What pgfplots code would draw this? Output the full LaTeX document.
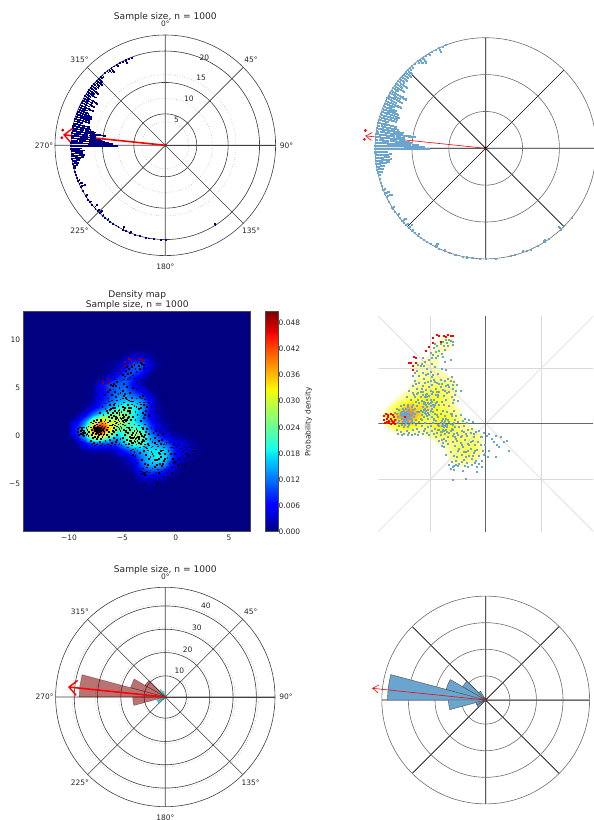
\documentclass[border=0pt]{standalone}
\usepackage{pgfplots}
\usepackage{pgfplotstable}
\usepackage{fontspec}
\setmainfont{DejaVu Sans}
\pgfplotsset{compat=1.18}
\usepgfplotslibrary{polar}
\usetikzlibrary{arrows.meta}
\definecolor{txt}{gray}{0.15}
\definecolor{navy}{rgb}{0,0,0.5}
\definecolor{dotb}{HTML}{6AA5CF}
\pgfplotsset{
 colormap={myjet}{rgb(0pt)=(0,0,.5); rgb(110pt)=(0,0,1); rgb(125pt)=(0,0,1); rgb(340pt)=(0,.86,1); rgb(350pt)=(0,.9,.97); rgb(375pt)=(.08,1,.92); rgb(640pt)=(.94,1,.03); rgb(660pt)=(1,.93,0); rgb(890pt)=(1,.07,0); rgb(910pt)=(.91,0,0); rgb(1000pt)=(.5,0,0)},
 colormap={yel}{rgb(0pt)=(1,1,1); rgb(84pt)=(1,1,1); rgb(85pt)=(1,1,.75); rgb(160pt)=(1,1,.45); rgb(250pt)=(1,1,.1); rgb(330pt)=(1,.85,.05); rgb(430pt)=(1,.6,.1); rgb(530pt)=(1,.4,.1)},
 rose/.style={scale only axis, width=#1, height=#1, anchor=center, clip=false,
   xmin=0, xmax=360, ymin=0,
   xtick={0,45,...,315}, xticklabels={90°,45°,0°,315°,270°,225°,180°,135°},
   xticklabel style={anchor=center, shift={(\tick:11pt)}},
   yticklabels={}, major tick length=0pt, minor tick length=0pt, tick style={draw=none},
   font=\fontsize{7.5}{9}\selectfont, every tick label/.append style={text=txt},
   title style={font=\fontsize{9.1}{11}\selectfont, text=txt, anchor=center},
   grid=both},
 plain/.style={scale only axis, width=#1, height=#1, anchor=center, clip=false,
   xmin=0, xmax=360, ymin=0, xtick={0,45,...,315}, xticklabels={}, yticklabels={},
   major tick length=0pt, minor tick length=0pt, tick style={draw=none}, grid=major,
   x grid style={black,line width=.7pt}, y grid style={gray!85!black,line width=.6pt},
   axis line style={gray!85!black,line width=.6pt}},
}
\pgfplotstableread[row sep=crcr]{z\\
0\\0\\0\\0\\0\\0\\0\\0\\0\\0\\0\\0\\0\\0\\0\\0\\0\\0\\
0\\0\\0\\0\\0\\0\\0\\2\\4\\4\\2\\0\\0\\0\\0\\0\\0\\0\\
0\\0\\0\\0\\0\\1\\2\\5\\10\\11\\4\\1\\0\\0\\0\\0\\0\\0\\
0\\0\\0\\0\\0\\1\\3\\8\\10\\8\\3\\0\\0\\0\\0\\0\\0\\0\\
0\\0\\0\\0\\1\\4\\8\\10\\7\\3\\0\\0\\0\\0\\0\\0\\0\\0\\
0\\0\\0\\1\\6\\10\\11\\11\\6\\2\\0\\0\\0\\0\\0\\0\\0\\0\\
0\\0\\0\\1\\5\\9\\12\\13\\10\\7\\2\\0\\0\\0\\0\\0\\0\\0\\
0\\0\\0\\2\\6\\10\\14\\16\\15\\13\\6\\1\\0\\0\\0\\0\\0\\0\\
0\\0\\1\\4\\9\\14\\18\\21\\19\\15\\7\\1\\0\\0\\0\\0\\0\\0\\
0\\1\\5\\12\\18\\22\\26\\25\\19\\14\\6\\2\\0\\0\\0\\0\\0\\0\\
1\\5\\13\\27\\37\\29\\31\\26\\19\\14\\8\\3\\1\\0\\0\\0\\0\\0\\
2\\9\\20\\42\\53\\35\\23\\23\\23\\20\\11\\5\\2\\0\\0\\0\\0\\0\\
2\\7\\16\\30\\34\\24\\16\\21\\31\\25\\15\\10\\5\\2\\1\\0\\0\\0\\
0\\1\\6\\11\\11\\10\\11\\17\\23\\22\\16\\14\\11\\6\\4\\2\\0\\0\\
0\\0\\1\\2\\2\\2\\4\\8\\12\\15\\18\\18\\16\\8\\4\\3\\1\\0\\
0\\0\\0\\0\\0\\0\\1\\2\\6\\12\\17\\19\\17\\8\\3\\1\\0\\0\\
0\\0\\0\\0\\0\\0\\0\\1\\3\\10\\15\\16\\13\\5\\1\\0\\0\\0\\
0\\0\\0\\0\\0\\0\\0\\0\\1\\6\\9\\8\\6\\2\\0\\0\\0\\0\\
0\\0\\0\\0\\0\\0\\0\\0\\0\\2\\3\\2\\1\\0\\0\\0\\0\\0\\
0\\0\\0\\0\\0\\0\\0\\0\\0\\0\\1\\0\\0\\0\\0\\0\\0\\0\\
0\\0\\0\\0\\0\\0\\0\\0\\0\\0\\0\\0\\0\\0\\0\\0\\0\\0\\
}\dens
\pgfplotstableread[row sep=crcr]{a r\\
180 20\\183 20\\187 20\\190 20\\192 20\\196 20\\199 20\\202 20\\202 19.7\\205 20\\207 20\\207 19.7\\207 19.3\\210 20\\212 20\\214 20\\216 20\\218 20\\218 19.7\\220 20\\222 20\\222 19.7\\224 20\\224 19.7\\224 19.3\\226 20\\226 19.7\\228 20\\229 20\\229 19.7\\229 19.3\\231 20\\233 20\\233 19.7\\235 20\\237 20\\237.7 19.7\\237.7 20\\241 20\\
244 20\\244 19.7\\244 19.3\\244 19\\246 20\\246 19.7\\246 19.3\\248 20\\248 19.7\\250 20\\252 20\\254 20\\256 20\\256 19.7\\
257.5 20\\257.5 19.7\\257.5 19.3\\259 20\\259 19.7\\259 19.3\\259 19\\
260.5 20\\260.5 19.7\\260.5 19.3\\260.5 19\\260.5 18.7\\
262 20\\262 19.7\\262 19.3\\262 19\\262 18.7\\262 18.3\\262 18\\262 17.7\\
263.5 20\\263.5 19.7\\263.5 19.3\\263.5 19\\263.5 18.7\\263.5 18.3\\263.5 18\\263.5 17.7\\263.5 17.3\\
265 20\\265 19.7\\265 19.3\\265 19\\265 18.7\\265 18.3\\265 18\\265 17.7\\
266.5 20\\266.5 19.7\\266.5 19.3\\266.5 19\\266.5 18.7\\266.5 18.3\\266.5 18\\266.5 17.7\\266.5 17.3\\
268 20\\268 19.7\\268 19.3\\268 19\\268 18.7\\268 18.3\\268 18\\
270 20\\270 19.7\\270 19.3\\270 19\\270 18.7\\270 18.3\\270 18\\270 17.7\\270 17.3\\270 17\\270 16.7\\270 16.3\\270 16\\270 15.7\\270 15.3\\270 15\\270 14.7\\270 14.3\\270 14\\270 13.7\\270 13.3\\270 13\\270 12.7\\270 12.3\\270 12\\270 11.7\\270 11.3\\270 11\\270 10.7\\270 10.3\\
271.5 20\\271.5 19.7\\271.5 19.3\\271.5 19\\271.5 18.7\\271.5 18.3\\271.5 18\\271.5 17.7\\271.5 17.3\\271.5 17\\271.5 16.7\\271.5 16.3\\271.5 16\\271.5 15.7\\271.5 15.3\\271.5 15\\271.5 14.7\\271.5 14.3\\271.5 14\\271.5 13.7\\271.5 13.3\\271.5 13\\271.5 12.7\\271.5 12.3\\271.5 12\\271.5 11.7\\271.5 11.3\\
273 20\\273 19.7\\273 19.3\\273 19\\273 18.7\\273 18.3\\273 18\\273 17.7\\273 17.3\\273 17\\273 16.7\\273 16.3\\273 16\\273 15.7\\273 15.3\\273 15\\273 14.7\\273 14.3\\273 14\\273 13.7\\273 13.3\\273 13\\273 12.7\\273 12.3\\
274.5 20\\274.5 19.7\\274.5 19.3\\274.5 19\\274.5 18.7\\274.5 18.3\\274.5 18\\274.5 17.7\\274.5 17.3\\274.5 17\\274.5 16.7\\274.5 16.3\\274.5 16\\274.5 15.7\\274.5 15.3\\274.5 15\\274.5 14.7\\274.5 14.3\\274.5 14\\274.5 13.7\\
276 20\\276 19.7\\276 19.3\\276 19\\276 18.7\\276 18.3\\276 18\\276 17.7\\276 17.3\\276 17\\276 16.7\\276 16.3\\276 16\\276 15.7\\276 15.3\\276 15\\
277.5 20\\277.5 19.7\\277.5 19.3\\277.5 19\\277.5 18.7\\277.5 18.3\\277.5 18\\277.5 17.7\\277.5 17.3\\277.5 17\\277.5 16.7\\277.5 16.3\\277.5 16\\277.5 15.7\\277.5 15.3\\277.5 15\\
279 20\\279 19.7\\279 19.3\\279 19\\279 18.7\\279 18.3\\279 18\\279 17.7\\279 17.3\\279 17\\279 16.7\\279 16.3\\279 16\\279 15.7\\279 15.3\\279 15\\279 14.7\\279 14.3\\279 14\\279 13.7\\279 13.3\\279 13\\
280.5 20\\280.5 19.7\\280.5 19.3\\280.5 19\\280.5 18.7\\280.5 18.3\\280.5 18\\280.5 17.7\\280.5 17.3\\280.5 17\\280.5 16.7\\280.5 16.3\\280.5 16\\280.5 15.7\\280.5 15.3\\
282 20\\282 19.7\\282 19.3\\282 19\\282 18.7\\282 18.3\\282 18\\282 17.7\\282 17.3\\282 17\\282 16.7\\282 16.3\\
283.5 20\\283.5 19.7\\283.5 19.3\\283.5 19\\283.5 18.7\\283.5 18.3\\283.5 18\\283.5 17.7\\283.5 17.3\\283.5 17\\283.5 16.7\\
285 20\\285 19.7\\285 19.3\\285 19\\285 18.7\\285 18.3\\
286.5 20\\286.5 19.7\\286.5 19.3\\286.5 19\\286.5 18.7\\286.5 18.3\\286.5 18\\286.5 17.7\\286.5 17.3\\286.5 17\\
288 20\\288 19.7\\288 19.3\\288 19\\288 18.7\\288 18.3\\288 18\\288 17.7\\288 17.3\\288 17\\
289.5 20\\289.5 19.7\\289.5 19.3\\289.5 19\\289.5 18.7\\289.5 18.3\\289.5 18\\289.5 17.7\\289.5 17.3\\289.5 17\\289.5 16.7\\
291 20\\291 19.7\\291 19.3\\291 19\\291 18.7\\291 18.3\\291 18\\291 17.7\\291 17.3\\291 17\\
292.5 20\\292.5 19.7\\292.5 19.3\\292.5 19\\292.5 18.7\\292.5 18.3\\292.5 18\\292.5 17.7\\
294 20\\294 19.7\\294 19.3\\294 19\\294 18.7\\294 18.3\\
295.5 20\\295.5 19.7\\295.5 19.3\\295.5 19\\295.5 18.7\\295.5 18.3\\295.5 18\\295.5 17.7\\295.5 17.3\\295.5 17\\
297 20\\297 19.7\\297 19.3\\297 19\\297 18.7\\297 18.3\\
298.5 20\\298.5 19.7\\298.5 19.3\\298.5 19\\298.5 18.7\\298.5 18.3\\298.5 18\\298.5 17.7\\298.5 17.3\\
300 20\\300 19.7\\300 19.3\\300 19\\300 18.7\\300 18.3\\300 18\\
301.5 20\\301.5 19.7\\301.5 19.3\\301.5 19\\301.5 18.7\\301.5 18.3\\301.5 18\\301.5 17.7\\301.5 17.3\\301.5 17\\
303 20\\303 19.7\\303 19.3\\303 19\\304.5 20\\304.5 19.7\\304.5 19.3\\304.5 19\\304.5 18.7\\304.5 18.3\\304.5 18\\
306 20\\306 19.7\\306 19.3\\306 19\\306 18.7\\307.5 20\\307.5 19.7\\307.5 19.3\\307.5 19\\307.5 18.7\\307.5 18.3\\307.5 18\\
309 20\\309 19.7\\309 19.3\\309 19\\310.5 20\\310.5 19.7\\310.5 19.3\\310.5 19\\310.5 18.7\\
312 20\\312 19.7\\312 19.3\\312 19\\313.5 20\\313.5 19.7\\313.5 19.3\\313.5 19\\313.5 18.7\\315 20\\315 19.7\\315 19.3\\315 19\\
316.5 20\\316.5 19.7\\318 20\\318 19.7\\320 20\\322 20\\322 19.7\\323.5 20\\323.5 19.7\\323.5 19.3\\325 20\\325 19.7\\325 19.3\\325 19\\
327 20\\329 20\\329 19.7\\331 20\\333 20\\335 20\\335 19.7\\335 19.3\\337 20\\339 20\\
148 20\\148 19.7\\
}\stack
\pgfplotstableread[row sep=crcr]{a r\\
129 20\\137 20\\137 19.7\\137 19.3\\145 20\\147 19.7\\152 20\\156 20\\158 20\\160 19.7\\165 20\\167 20\\175 20\\
}\stackb
\pgfplotstableread[row sep=crcr]{x y\\
-7.2 .7\\-7.5 .9\\-7 .5\\-6.9 1\\-7.3 .3\\-7.6 .5\\-7.1 1.1\\-6.8 .7\\-7.4 1.2\\-7.7 .8\\-6.7 .4\\-7 .2\\-7.3 .8\\-7.5 .2\\-6.6 1\\-7.8 .3\\-6.9 1.3\\-7.2 1.4\\-7.6 1.1\\-6.7 .8\\-7.1 .4\\-7.4 .6\\-7 .8\\-7.2 .1\\-6.8 .1\\-7.7 1\\-7.9 .6\\-6.5 .6\\-7.5 1.4\\-6.9 -.1\\-7.3 -.1\\-7.6 -.1\\-6.6 1.3\\-7.8 1.3\\-7.1 .9\\-7.3 1\\-6.8 .5\\-7.5 .7\\-7 1.5\\-6.7 1.5\\-7.4 .4\\-7.2 .5\\-6.9 .6\\-7.1 .7\\-7.6 .7\\-7.3 .5\\-6.7 .2\\-8 .9\\-7.9 .1\\-8.1 .4\\-7.8 -.2\\-7.4 -.3\\-7 -.3\\-6.5 .1\\-6.4 .9\\-6.4 1.4\\-6.6 1.7\\-7 1.7\\-7.4 1.7\\-7.7 1.6\\-8 1.4\\-8.2 1\\-6.3 .4\\-6.2 1.1\\
-8 -.5\\-7.7 -.7\\-7.4 -.9\\-7.1 -.6\\-6.9 -.8\\-6.6 -.5\\-6.4 -.9\\-6.2 -.4\\-6 -.7\\-5.8 -.2\\-5.7 -.9\\-5.5 -.4\\-5.3 -.8\\-5.1 -1\\-7.9 -.9\\-7.6 -1\\-7 -1\\-6.7 -1\\-6.1 -1\\-5.6 -.6\\-6.3 -.1\\-6 .2\\-5.8 .4\\-5.5 .1\\-5.2 -.3\\
-6.2 1.6\\-6 1.9\\-5.9 1.2\\-5.7 1.5\\-5.6 2\\-5.5 1\\-5.4 1.7\\-5.3 2.2\\-5.2 1.3\\-5.1 .8\\-5 1.6\\-4.9 2\\-4.8 1.1\\-5.8 .8\\-6 1.1\\-5.6 .6\\-5.4 .9\\-5.2 .5\\-5 1.2\\-4.8 1.7\\-6.1 2.2\\-5.9 2.4\\-5.7 2.6\\-5.5 2.4\\-5.3 1.5\\-5.1 2.5\\-4.9 2.7\\-4.7 2.2\\-5.4 2.6\\-5.6 1.8\\-5.8 2.1\\-6.3 2\\-6.4 2.4\\-6.2 2.7\\-5.5 1.9\\-5.2 1.9\\-5 2.2\\-4.7 1.5\\-4.6 .9\\-4.5 1.9\\-4.4 1.3\\-4.3 2.4\\-4.5 2.6\\-4.2 1.7\\-4.1 .9\\-4 2\\-3.9 1.2\\-5.7 1.1\\-5.9 .5\\-5.3 .7\\-4.9 .6\\-4.7 .4\\-5.5 1.4\\-5.1 1.8\\-5.4 1.2\\-5.2 1\\-5.6 1.3\\-4.9 1.4\\-5 1.9\\-5.3 2.4\\-4.6 1.7\\-4.4 2\\-3.8 1.7\\-3.6 2.2\\-3.5 1.1\\-3.3 1.6\\-3.1 .9\\-3.7 .7\\-3 1.9\\-2.9 1.2\\
-4.8 .1\\-4.6 -.4\\-4.5 .3\\-4.4 -.8\\-4.3 .6\\-4.2 -.2\\-4.1 -1\\-4 .3\\-3.9 -.5\\-3.8 .1\\-3.7 -.9\\-3.6 .5\\-3.5 -.3\\-3.4 -1.2\\-3.3 .2\\-3.2 -.6\\-3.1 .7\\-3 -.1\\-2.9 -.9\\-2.8 .4\\-4.7 -.9\\-4.5 -1.2\\-4.3 -.1\\-4.1 .1\\-4 -.7\\-3.9 -.1\\-3.8 -.3\\-3.7 .3\\-3.6 -.5\\-3.5 -.1\\-3.4 .4\\-3.3 -.8\\-4.2 -.5\\-4 -.2\\-3.8 -.6\\-3.6 -.1\\-3.9 .5\\-4.1 -.7\\-3.7 -.2\\-4.3 -.5\\-3.5 -.7\\-3.2 0\\-3.1 -.4\\-3 -.5\\-2.9 .1\\-2.8 -.3\\-2.7 .7\\-2.6 -.8\\-2.5 .2\\-2.4 -.3\\-2.3 .8\\-2.2 -.6\\-2.1 .3\\-2 -.2\\-1.9 .5\\-1.8 -.9\\-1.7 .1\\-1.6 -.5\\-1.5 .4\\-4.9 -.6\\-5 -.2\\-4.7 .5\\-4.4 .8\\-3.2 .9\\-3 -1.1\\-2.7 -1.3\\-2.5 -1\\-3.8 -1.3\\-3.6 -1.5\\-4 -1.4\\-2.2 -1.1\\-2 -.7\\-1.3 -.4\\-1.1 -.9\\-.9 -.7\\-1.2 .2\\-.6 -.6\\-1.4 -.8\\-4.2 -1.5\\
-3.4 -1.8\\-3.2 -2.5\\-3 -1.6\\-2.9 -2.9\\-2.8 -2\\-2.7 -3.3\\-2.6 -1.5\\-2.5 -2.4\\-2.4 -3.6\\-2.3 -1.7\\-2.2 -2.8\\-2.1 -2.1\\-2 -3.2\\-1.9 -1.4\\-1.8 -2.5\\-1.7 -3.5\\-1.6 -1.8\\-1.5 -2.9\\-1.4 -2.2\\-1.3 -3.1\\-1.2 -1.5\\-1.1 -2.6\\-1 -1.9\\-.9 -3.3\\-.8 -2.3\\-3.1 -3.4\\-2.9 -3.8\\-2.6 -3\\-2.4 -2.2\\-2.2 -1.9\\-2 -2.5\\-1.8 -3\\-1.6 -2.4\\-1.4 -1.6\\-1.2 -2.9\\-1 -2.4\\-.7 -1.6\\-.6 -2.9\\-.5 -1.9\\-3.6 -2.8\\-3.8 -2.1\\-4 -2\\-3.3 -3.7\\-3 -3.9\\-2.7 -3.7\\-2.5 -3.8\\-2.2 -3.4\\-1.9 -3.8\\-1.6 -3.9\\-1.3 -3.7\\-1 -3.5\\-.8 -3.9\\-.6 -3.6\\-.4 -3.3\\-.3 -2.4\\-.2 -2.8\\-2.8 -1.2\\-2.3 -1.2\\-1.7 -1.1\\-1.5 -1.9\\-1.1 -1.2\\-3.9 -1.7\\
-.4 -1.2\\-.1 -1.9\\.1 -1.1\\.3 -2.4\\.5 -1.3\\.7 -1.6\\.9 -1.1\\1 -1.9\\1.2 -2.1\\1.3 -1.2\\1.6 -1.6\\1.9 -1.5\\2.1 -2.4\\.2 -3\\-.1 -2.7\\.9 -3\\.3 -.9\\-.2 -.8\\-.5 -1.2\\
-7.1 2.4\\-6.9 3\\-6.8 2.2\\-6.6 3.4\\-6.5 2.6\\-6.4 3.9\\-6.2 3.2\\-6 3.7\\-5.9 2.9\\-5.7 3.4\\-5.6 4.1\\-5.4 3.1\\-5.2 3.8\\-5 3\\-4.9 3.5\\-4.7 4\\-4.5 3.2\\-4.4 3.7\\-4.2 2.9\\-4 3.6\\-3.9 3.1\\-3.7 3.9\\-3.5 2.8\\-3.4 3.5\\-3.2 3.9\\-3 3.2\\-2.9 3.8\\-2.8 2.6\\-3.1 2.4\\-3.3 2.9\\-3.6 3.4\\-3.8 2.5\\-4.1 3.3\\-4.3 2.6\\-4.6 3.8\\-4.8 2.9\\-5.1 3.3\\-5.3 2.7\\-5.5 3.7\\-5.8 3.2\\-6.1 2.8\\-6.3 3.6\\-3.1 4.2\\-3 3.5\\-3.3 3.3\\-2.6 3.5\\-2.3 3\\-2.7 3\\-2.5 2.1\\-3.4 4.1\\-4.1 4\\-4.9 4.2\\-6.6 2.8\\-2.9 2.2\\-4.4 2.9\\-5 3.9\\-5.7 2.9\\-3.7 3\\-4.2 3.6\\
-6.6 4.3\\-6.2 4.8\\-6 4.3\\-5.9 5.2\\-5.7 4.6\\-5.5 5.6\\-5.4 4.4\\-5.3 5\\-5.1 5.8\\-5 4.7\\-4.9 5.4\\-4.8 4.4\\-4.6 5.1\\-4.5 5.9\\-4.3 4.5\\-5.7 5.9\\-5.6 5.2\\-6.4 4.6\\-5.2 4.5\\-3.7 5.6\\-3.6 4.9\\-4 5\\-3.2 5.8\\-5.8 5.4\\-6.1 5.3\\
-5 6.4\\-4.8 6.2\\-4.7 6.8\\-4.5 6.5\\-4.4 7\\-4.2 6.6\\-4.1 7.2\\-4 6.3\\-3.8 7\\-3.7 6.7\\-3.5 7.3\\-3.4 7\\-3.2 7.5\\-3 7.1\\-3 7.4\\-4.6 7.2\\-4.9 5.9\\-3.9 6\\-4.3 6.1\\-3.6 7.6\\-3.3 7.6\\-3.9 7.4\\
-3 -5\\-1.8 -4.9\\-2.9 -4.1\\-3.2 -4\\-2.1 -4.2\\-.4 -3.9\\-.8 -4.3\\
}\pts
\pgfplotstableread[row sep=crcr]{x y\\
-4.4 8\\-4.2 7.9\\-3.8 7.9\\-3.6 7.8\\-3.4 8\\-3.2 7.9\\-3 7.9\\-4.1 7.4\\-4.8 7.7\\-4.8 7.3\\-5.1 6.9\\-5.4 6.6\\-6.5 6\\-6.3 5.9\\-6.9 5.5\\-6.8 5.5\\-6.3 5.5\\-6.6 5.2\\-6.6 4.9\\
}\redtop
\pgfplotstableread[row sep=crcr]{x y\\
-9.2 .7\\-9.2 .4\\-9 .9\\-8.9 .2\\-8.8 .6\\-8.7 .1\\-8.6 .9\\-8.5 .3\\-8.4 .8\\-8.4 .1\\-8.3 .6\\-8.3 .2\\-9.1 .1\\-8.9 .5\\-8.6 .5\\-8.2 .4\\-8.8 .8\\-8.6 0\\-8.2 0\\-8.7 .3\\-7.3 .6\\
}\redleft
\begin{document}
\begin{tikzpicture}[x=1pt,y=1pt]
\path[use as bounding box] (0,0) rectangle (594,820);
% A
\begin{polaraxis}[rose=220.6pt, at={(165.3pt,674.7pt)}, ymax=23.4,
  title={Sample size, n = 1000}, title style={at={(0.5,1.018)}},
  ytick={6.67,13.33,20}, minor ytick={5,10,15,20},
  axis line style={black!75,line width=.6pt},
  major grid style={black!75,line width=.6pt}, minor grid style={dotted,gray!75,line width=.6pt}]
\addplot[only marks, mark=square*, mark size=.42pt, navy] table[x expr={mod(450-\thisrowno{0},360)},y index=1]{\stack};
\addplot[red,line width=1.6pt,-{Straight Barb[length=8pt,width=15pt,line width=1.4pt]}] coordinates {(0,0)(174.1,21.8)};
\addplot[only marks, mark=*, mark size=1.2pt, red!85!black] coordinates {(171.6,22)(175.8,22)};
\node[text=txt] at (axis cs:66,5.9){5};
\node[text=txt] at (axis cs:63,11.06){10};
\node[text=txt] at (axis cs:62,16.2){15};
\node[text=txt] at (axis cs:66,20.4){20};
\end{polaraxis}
% B
\begin{polaraxis}[plain=221.2pt, at={(485.7pt,671.7pt)}, ymax=20, ytick={6.67,13.33}]
\addplot[only marks, mark=square*, mark size=.55pt, dotb] table[x expr={mod(450-\thisrowno{0},360)},y index=1]{\stack};
\addplot[only marks, mark=square*, mark size=.55pt, dotb] table[x expr={mod(450-\thisrowno{0},360)},y index=1]{\stackb};
\addplot[red,line width=.6pt,-{Straight Barb[length=6pt,width=8pt,line width=.6pt]}] coordinates {(0,0)(174.1,21.9)};
\addplot[only marks, mark=*, mark size=1.2pt, red] coordinates {(171.6,22)(175.8,22)};
\end{polaraxis}
% C
\begin{axis}[scale only axis, width=227pt, height=220pt, anchor=center, at={(137.2pt,398.3pt)},
  xmin=-14.25, xmax=7.03, ymin=-10.02, ymax=12.94, axis on top,
  axis background/.style={fill=navy},
  colormap name=myjet, point meta min=0, point meta max=0.0506,
  xtick={-10,-5,0,5}, xticklabels={−10,−5,0,5},
  ytick={-5,0,5,10}, yticklabels={−5,0,5,10},
  font=\fontsize{7.5}{9}\selectfont, every tick label/.append style={text=txt},
  tick style={draw=none}, axis line style={black!70,line width=.7pt},
  title={Density map\\Sample size, n = 1000},
  title style={font=\fontsize{9.1}{10.2}\selectfont, text=txt, anchor=center, align=center, at={(0.5,1.027)}},
  colorbar, colorbar shift/.style={xshift=14.3pt},
  colorbar style={scale only axis, width=13.3pt, height=220pt,
    ytick={0,.006,...,.048}, yticklabels={0.000,0.006,0.012,0.018,0.024,0.030,0.036,0.042,0.048},
    yticklabel pos=right, ylabel={Probability density}, ylabel near ticks, ylabel shift=-2pt, scaled y ticks=false,
    yticklabel style={font=\fontsize{7.5}{9}\selectfont,text=txt,xshift=-3.5pt},
    axis line style={black!70,line width=.7pt}, tick style={draw=none},
    ylabel style={font=\fontsize{7.5}{9}\selectfont,text=txt}}]
\addplot[surf,shader=interp,mesh/cols=18,point meta=\thisrow{z}/1000] table[x index=0,y index=0,x expr={-10+0.75*mod(\coordindex,18)},y expr={9-0.75*floor(\coordindex/18)}]{\dens};
\addplot[only marks, mark=square*, mark size=.36pt, black] table[x=x,y=y]{\pts};
\addplot[only marks, mark=square*, mark size=.36pt, black] table[x=x,y=y]{\redleft};
\addplot[only marks, mark=square*, mark size=.36pt, red!55!black] table[x=x,y=y]{\redtop};
\end{axis}
% D
\begin{axis}[scale only axis, width=215pt, height=215.7pt, anchor=center, at={(485.8pt,396.2pt)},
  xmin=-9.68, xmax=9.68, ymin=-9.7, ymax=9.7, hide axis, clip=true,
  colormap name=yel, point meta min=0, point meta max=0.0506]
\addplot[surf,shader=interp,mesh/cols=18,point meta=\thisrow{z}/1000] table[x index=0,y index=0,x expr={-10+0.75*mod(\coordindex,18)},y expr={9-0.75*floor(\coordindex/18)}]{\dens};
\addplot[gray!30,line width=.6pt] coordinates {(-9.68,-9.68)(9.68,9.68)};
\addplot[gray!30,line width=.6pt] coordinates {(-9.68,9.68)(9.68,-9.68)};
\addplot[gray!30,line width=.8pt] coordinates {(-5,-9.7)(-5,9.7)};
\addplot[gray!30,line width=.8pt] coordinates {(5,-9.7)(5,9.7)};
\addplot[gray!30,line width=.8pt] coordinates {(-9.68,5)(9.68,5)};
\addplot[gray!30,line width=.8pt] coordinates {(-9.68,-5)(9.68,-5)};
\addplot[black!60,line width=1.2pt] coordinates {(0,-9.7)(0,9.7)};
\addplot[black!60,line width=1.2pt] coordinates {(-9.68,0)(9.68,0)};
\addplot[only marks, mark=square*, mark size=.5pt, dotb] table[x=x,y=y]{\pts};
\addplot[only marks, mark=square*, mark size=.5pt, red] table[x=x,y=y]{\redtop};
\addplot[only marks, mark=square*, mark size=.5pt, red] table[x=x,y=y]{\redleft};
\end{axis}
% E
\begin{polaraxis}[rose=219.4pt, at={(165.3pt,123pt)}, ymax=47.1,
  title={Sample size, n = 1000}, title style={at={(0.5,1.015)}},
  ytick={9.1,19.1,29.1,39.1}, minor ytick={10,20,30,40},
  axis line style={black!75,line width=.6pt},
  major grid style={black!75,line width=.6pt}, minor grid style={dotted,gray!75,line width=.6pt}]
\addplot[fill=red!50!black,fill opacity=.55,draw=red!30!black,draw opacity=.6,line width=.3pt] coordinates {(0,0)(180,37)(172.5,37)(165,37)} --cycle;
\addplot[fill=red!50!black,fill opacity=.55,draw=red!30!black,draw opacity=.6,line width=.3pt] coordinates {(0,0)(165,15.4)(157.5,15.4)(150,15.4)} --cycle;
\addplot[fill=red!50!black,fill opacity=.55,draw=red!30!black,draw opacity=.6,line width=.3pt] coordinates {(0,0)(195,14)(187.5,14)(180,14)} --cycle;
\addplot[fill=red!50!black,fill opacity=.55,draw=red!30!black,draw opacity=.6,line width=.3pt] coordinates {(0,0)(150,10)(142.5,10)(135,10)} --cycle;
\addplot[fill=teal!70!cyan,fill opacity=.55,draw=teal,draw opacity=.5,line width=.3pt] coordinates {(0,0)(135,3.8)(127.5,3.8)(120,3.8)} --cycle;
\addplot[fill=teal!70!cyan,fill opacity=.55,draw=teal,draw opacity=.5,line width=.3pt] coordinates {(0,0)(120,2.5)(112.5,2.5)(105,2.5)} --cycle;
\addplot[fill=teal!70!cyan,fill opacity=.55,draw=teal,draw opacity=.5,line width=.3pt] coordinates {(0,0)(210,3.8)(202.5,3.8)(195,3.8)} --cycle;
\addplot[fill=teal!70!cyan,fill opacity=.55,draw=teal,draw opacity=.5,line width=.3pt] coordinates {(0,0)(225,3.8)(217.5,3.8)(210,3.8)} --cycle;
\addplot[fill=teal!70!cyan,fill opacity=.55,draw=teal,draw opacity=.5,line width=.3pt] coordinates {(0,0)(240,1.5)(232.5,1.5)(225,1.5)} --cycle;
\addplot[red,line width=1.6pt,-{Straight Barb[length=8pt,width=15pt,line width=1.4pt]}] coordinates {(0,0)(174.1,42)};
\node[text=txt] at (axis cs:61.4,12.6){10};
\node[text=txt] at (axis cs:65,22.6){20};
\node[text=txt] at (axis cs:65.5,32.8){30};
\node[text=txt] at (axis cs:66,42.9){40};
\end{polaraxis}
% F
\begin{polaraxis}[plain=207.8pt, at={(485.7pt,120pt)}, ymax=39.1, ytick={9.1,19.1,29.1}]
\addplot[fill=dotb,draw=black!70,line width=.4pt] coordinates {(0,0)(180,37)(172.5,37)(165,37)} --cycle;
\addplot[fill=dotb,draw=black!70,line width=.4pt] coordinates {(0,0)(165,15.4)(157.5,15.4)(150,15.4)} --cycle;
\addplot[fill=dotb,draw=black!70,line width=.4pt] coordinates {(0,0)(195,14)(187.5,14)(180,14)} --cycle;
\addplot[fill=dotb,draw=black!70,line width=.4pt] coordinates {(0,0)(150,10)(142.5,10)(135,10)} --cycle;
\addplot[fill=dotb,draw=black!70,line width=.4pt] coordinates {(0,0)(135,3.8)(127.5,3.8)(120,3.8)} --cycle;
\addplot[fill=dotb,draw=black!70,line width=.4pt] coordinates {(0,0)(210,3.8)(202.5,3.8)(195,3.8)} --cycle;
\addplot[fill=dotb,draw=black!70,line width=.4pt] coordinates {(0,0)(225,3.8)(217.5,3.8)(210,3.8)} --cycle;
\addplot[red,line width=.6pt,-{Straight Barb[length=6pt,width=8pt,line width=.6pt]}] coordinates {(0,0)(174.1,43)};
\end{polaraxis}
\end{tikzpicture}
\end{document}
